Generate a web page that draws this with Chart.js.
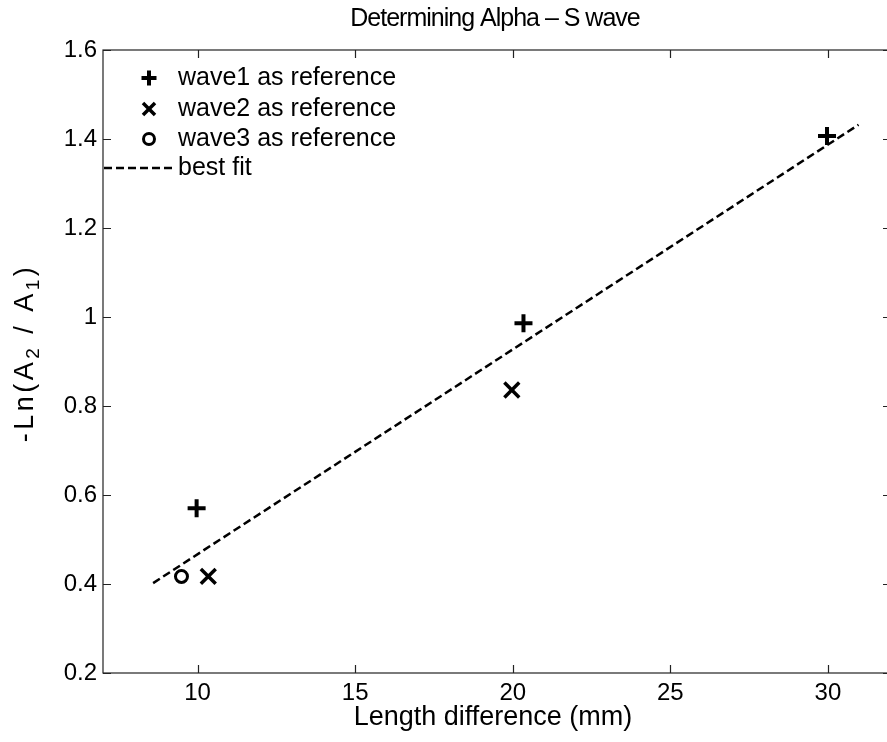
<!DOCTYPE html>
<html>
<head>
<meta charset="utf-8">
<script src="https://cdn.jsdelivr.net/npm/chart.js@4"></script>
<style>
html, body { margin: 0; padding: 0; background: #fff; overflow: hidden; }
canvas { display: block; }
</style>
</head>
<body>
<canvas id="chart" width="892" height="742"></canvas>
<script>
// values
const wave1X = [9.97, 20.34, 29.97];
const wave1Y = [0.570, 0.986, 1.407];
const wave2X = [10.34, 19.97];
const wave2Y = [0.417, 0.836];
const wave3X = [9.49];
const wave3Y = [0.417];
const fitX = [8.59, 30.97];
const fitY = [0.402, 1.432];
const xTicks = [10, 15, 20, 25, 30];
const yTicks = [0.2, 0.4, 0.6, 0.8, 1, 1.2, 1.4, 1.6];
const seriesLabels = ['wave1 as reference', 'wave2 as reference', 'wave3 as reference', 'best fit'];

const FONT = "'Liberation Sans', Arial, sans-serif";
const pts = (xs, ys) => xs.map((x, i) => ({ x: x, y: ys[i] }));

function mark(ctx, style, x, y, r, lw) {
    ctx.save();
    ctx.strokeStyle = '#000';
    ctx.lineWidth = lw;
    ctx.beginPath();
    if (style === 'cross') {
        ctx.moveTo(x - r, y); ctx.lineTo(x + r, y);
        ctx.moveTo(x, y - r); ctx.lineTo(x, y + r);
    } else if (style === 'crossRot') {
        const d = r * Math.SQRT1_2;
        ctx.moveTo(x - d, y - d); ctx.lineTo(x + d, y + d);
        ctx.moveTo(x - d, y + d); ctx.lineTo(x + d, y - d);
    } else if (style === 'circle') {
        ctx.arc(x, y, r, 0, Math.PI * 2);
    }
    ctx.stroke();
    ctx.restore();
}

// box + inward ticks on all four sides
const frame = {
    id: 'frame',
    beforeDatasetsDraw(chart) {
        const { ctx, chartArea: a, scales } = chart;
        const tl = 8;
        ctx.save();
        ctx.strokeStyle = '#222';
        ctx.lineWidth = 1.2;
        ctx.strokeRect(a.left, a.top, a.right - a.left, a.bottom - a.top);
        ctx.beginPath();
        scales.x.ticks.forEach(t => {
            const px = Math.round(scales.x.getPixelForValue(t.value)) + 0.5;
            ctx.moveTo(px, a.bottom); ctx.lineTo(px, a.bottom - tl);
            ctx.moveTo(px, a.top); ctx.lineTo(px, a.top + tl);
        });
        scales.y.ticks.forEach(t => {
            const py = Math.round(scales.y.getPixelForValue(t.value)) + 0.5;
            ctx.moveTo(a.left, py); ctx.lineTo(a.left + tl, py);
            ctx.moveTo(a.right, py); ctx.lineTo(a.right - tl, py);
        });
        ctx.stroke();
        ctx.restore();
    }
};

const texts = {
    id: 'texts',
    afterDraw(chart) {
        const { ctx, chartArea: a } = chart;
        const cx = (a.left + a.right) / 2;
        ctx.save();
        ctx.fillStyle = '#000';
        ctx.textAlign = 'center';
        ctx.textBaseline = 'middle';

        ctx.letterSpacing = '-1px';
        ctx.font = '25px ' + FONT;
        ctx.fillText('Determining Alpha \u2013 S wave', cx - 2, 19);

        ctx.letterSpacing = '0px';
        ctx.font = '27px ' + FONT;
        ctx.fillText('Length difference (mm)', cx - 4, 718);

        // y title with subscripts
        const parts = [['-Ln(A', false], ['2', true], [' / A', false], ['1', true], [')', false]];
        ctx.letterSpacing = '3.5px';
        ctx.textAlign = 'left';
        ctx.textBaseline = 'alphabetic';
        let total = 0;
        parts.forEach(p => {
            ctx.font = (p[1] ? '19px ' : '27px ') + FONT;
            total += ctx.measureText(p[0]).width;
        });
        ctx.translate(33, 353);
        ctx.rotate(-Math.PI / 2);
        let x = -total / 2;
        parts.forEach(p => {
            ctx.font = (p[1] ? '19px ' : '27px ') + FONT;
            ctx.fillText(p[0], x, p[1] ? 6 : 0);
            x += ctx.measureText(p[0]).width;
        });
        ctx.restore();

        // legend
        ctx.save();
        ctx.fillStyle = '#000';
        ctx.font = '25px ' + FONT;
        ctx.textBaseline = 'alphabetic';
        const rows = [78, 109, 139, 168];
        chart.data.datasets.forEach((ds, i) => {
            const y = rows[i];
            if (ds.showLine) {
                ctx.save();
                ctx.strokeStyle = '#000';
                ctx.lineWidth = ds.borderWidth;
                ctx.setLineDash(ds.borderDash);
                ctx.beginPath();
                ctx.moveTo(a.left + 1, y); ctx.lineTo(a.left + 72, y);
                ctx.stroke();
                ctx.restore();
            } else {
                mark(ctx, ds.pointStyle, 149, y, ds.legendRadius, ds.pointBorderWidth);
            }
            ctx.fillText(ds.label, 178, y + 7);
        });
        ctx.restore();
    }
};

new Chart(document.getElementById('chart'), {
    type: 'scatter',
    data: {
        datasets: [
            {
                label: seriesLabels[0], data: pts(wave1X, wave1Y),
                pointStyle: 'cross', pointRadius: 9, pointBorderWidth: 4, legendRadius: 7.5,
                borderColor: '#000', backgroundColor: '#000'
            },
            {
                label: seriesLabels[1], data: pts(wave2X, wave2Y),
                pointStyle: 'crossRot', pointRadius: 10.5, pointBorderWidth: 3.5, legendRadius: 8.5,
                borderColor: '#000', backgroundColor: '#000'
            },
            {
                label: seriesLabels[2], data: pts(wave3X, wave3Y),
                pointStyle: 'circle', pointRadius: 6, pointBorderWidth: 3, legendRadius: 5.5,
                borderColor: '#000', backgroundColor: 'rgba(0,0,0,0)'
            },
            {
                label: seriesLabels[3], data: pts(fitX, fitY),
                showLine: true, pointRadius: 0, borderWidth: 2.5, borderDash: [8, 4],
                borderColor: '#000', backgroundColor: '#000'
            }
        ]
    },
    options: {
        responsive: false,
        animation: false,
        events: [],
        layout: { autoPadding: false, padding: { top: 50, right: 1, left: 0, bottom: 0 } },
        plugins: { legend: { display: false }, tooltip: { enabled: false }, title: { display: false } },
        scales: {
            x: {
                type: 'linear', min: 7, max: 32,
                afterBuildTicks: s => { s.ticks = xTicks.map(v => ({ value: v })); },
                afterFit: s => { s.height = 69; s.paddingLeft = 0; s.paddingRight = 0; },
                grid: { display: false, drawTicks: false },
                border: { display: false },
                ticks: { padding: 6, color: '#000', font: { size: 24, family: FONT } }
            },
            y: {
                type: 'linear', min: 0.2, max: 1.6,
                afterBuildTicks: s => { s.ticks = yTicks.map(v => ({ value: v })); },
                afterFit: s => { s.width = 103; s.paddingTop = 0; s.paddingBottom = 0; },
                grid: { display: false, drawTicks: false },
                border: { display: false },
                ticks: {
                    padding: 6, color: '#000', font: { size: 24, family: FONT },
                    callback: v => String(+v.toFixed(1))
                }
            }
        }
    },
    plugins: [frame, texts]
});
</script>
</body>
</html>
